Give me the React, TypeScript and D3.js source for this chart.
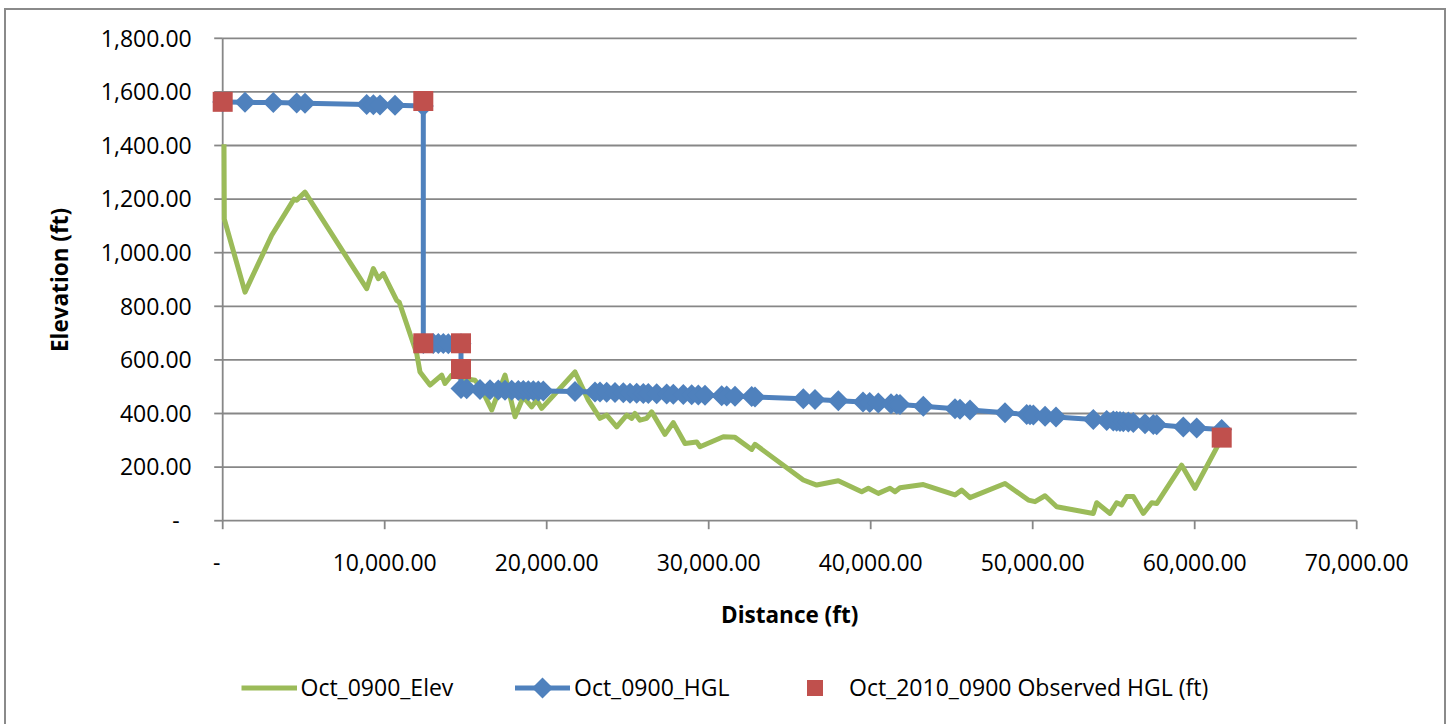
import React from "react";
import * as d3 from "d3";

// ---- Data ----
const elevDistance = [
  80, 100, 1377, 3025, 4400, 4566, 5080, 8889, 9300, 9607, 9914, 10740, 10900, 11975, 12179,
  12796, 13519, 13722, 14136, 14852, 15574, 15900, 16605, 17426, 18043, 18556, 19074, 19383,
  19691, 21747, 22568, 23290, 23704, 24321, 24938, 25247, 25450, 25759, 26173, 26481, 27302,
  27815, 28537, 29259, 29463, 30903, 31623, 32654, 32858, 35840, 36667, 38000, 39444, 39855,
  40469, 41191, 41500, 41809, 43247, 45204, 45617, 46130, 48290, 49732, 50144, 50761, 51482,
  53740, 53950, 54772, 55185, 55494, 55802, 56210, 56830, 57346, 57654, 59197, 60019, 61667,
];
const elevValues = [
  1405, 1125, 853, 1065, 1200, 1196, 1226, 866, 941, 903, 922, 822, 815, 624, 555,
  506, 543, 512, 543, 531, 524, 500, 413, 543, 388, 462, 425, 450,
  419, 555, 450, 382, 394, 350, 394, 382, 400, 375, 382, 406, 322,
  366, 288, 294, 276, 313, 311, 266, 285, 152, 133, 149, 108, 121,
  102, 121, 108, 123, 135, 96, 114, 86, 139, 77, 71, 93, 52,
  27, 67, 27, 67, 59, 90, 90, 27, 67, 64, 207, 121, 307,
];

const hglDistance = [
  0, 1377, 3125, 4566, 5080, 8889, 9300, 9710, 10636, 12383,
  12383, 13000, 13310, 13617, 13926, 14710,
  14710, 15062, 15883, 16500, 17012, 17426, 17840, 18247, 18556, 18864, 19173, 19481, 19790,
  21747, 22981, 23290, 23704, 24216, 24728, 25142, 25556, 25963, 26272, 26790, 27407, 27815,
  28432, 28951, 29358, 29772, 30802, 31111, 31623, 32654, 32858, 35840, 36562, 38000, 39525,
  39938, 40469, 41253, 41605, 41809, 43247, 45204, 45512, 46130, 48290, 49630, 49833, 50040,
  50762, 51438, 53740, 54568, 54975, 55185, 55389, 55593, 55901, 56210, 56932, 57444, 57654,
  59296, 60123, 61667,
];
const hglValues = [
  1562, 1561, 1560, 1559, 1558, 1553, 1552, 1551, 1550, 1547,
  661, 661, 661, 661, 660, 660,
  493, 492, 490, 489, 488, 487, 487, 486, 486, 485, 485, 484, 484,
  482, 480, 480, 479, 478, 477, 476, 476, 475, 475, 474, 473, 472,
  471, 470, 469, 468, 466, 465, 464, 463, 462, 455, 452, 448, 443,
  441, 439, 436, 435, 434, 427, 418, 416, 413, 403, 396, 395, 394,
  390, 387, 378, 374, 372, 371, 370, 369, 368, 366, 362, 359, 358,
  350, 346, 340,
];

const obsDistance = [0, 12383, 12383, 14710, 14710, 61667];
const obsValues = [1563, 1566, 662, 662, 566, 310];

const xTicks = [0, 10000, 20000, 30000, 40000, 50000, 60000, 70000];
const yTicks = [0, 200, 400, 600, 800, 1000, 1200, 1400, 1600, 1800];
const seriesNames = ["Oct_0900_Elev", "Oct_0900_HGL", "Oct_2010_0900 Observed HGL (ft)"];
const xTitle = "Distance (ft)";
const yTitle = "Elevation (ft)";

// ---- Styles ----
const W = 1448;
const H = 724;
const GREEN = "#9BBB59";
const BLUE = "#4F81BD";
const RED = "#C0504D";
const GRID = "#878787";
const FONT = "'Open Sans', 'Liberation Sans', sans-serif";

const fmt = (v: number) => (v === 0 ? "-" : d3.format(",.2f")(v));

export default function App() {
  const x = d3.scaleLinear().domain([0, 70000]).range([222.7, 1356.7]);
  const y = d3.scaleLinear().domain([0, 1800]).range([520.7, 38.3]);

  const elev = elevDistance.map((d, i) => [d, elevValues[i]] as [number, number]);
  const hgl = hglDistance.map((d, i) => [d, hglValues[i]] as [number, number]);
  const obs = obsDistance.map((d, i) => [d, obsValues[i]] as [number, number]);

  const line = d3
    .line<[number, number]>()
    .x((d) => x(d[0]))
    .y((d) => y(d[1]));

  const dR = 10.5;
  const diamond = `M0,${-dR}L${dR},0L0,${dR}L${-dR},0Z`;
  const sq = 20;

  const legendY = 688;

  return (
    <svg
      width={W}
      height={H}
      style={{ position: "absolute", left: 0, top: 0, background: "#fff" }}
      fontFamily={FONT}
    >
      <rect x={0} y={0} width={W} height={H} fill="#fff" />
      <rect x={5} y={9} width={1440} height={740} fill="none" stroke="#8a8a8a" strokeWidth={2} />

      {/* gridlines */}
      {yTicks
        .filter((t) => t !== 0)
        .map((t) => (
          <line key={"g" + t} x1={x(0)} x2={x(70000)} y1={y(t)} y2={y(t)} stroke={GRID} strokeWidth={1.8} />
        ))}

      {/* axes */}
      <line x1={x(0)} x2={x(0)} y1={y(1800)} y2={y(0)} stroke={GRID} strokeWidth={1.8} />
      <line x1={x(0)} x2={x(70000)} y1={y(0)} y2={y(0)} stroke={GRID} strokeWidth={1.8} />
      {yTicks.map((t) => (
        <line key={"yt" + t} x1={x(0) - 8.5} x2={x(0)} y1={y(t)} y2={y(t)} stroke={GRID} strokeWidth={1.8} />
      ))}
      {xTicks.map((t) => (
        <line key={"xt" + t} x1={x(t)} x2={x(t)} y1={y(0)} y2={y(0) + 8.5} stroke={GRID} strokeWidth={1.8} />
      ))}

      {/* tick labels */}
      {yTicks.map((t) => (
        <text
          key={"yl" + t}
          x={x(0) - 31 - (t === 0 ? 12 : 0)}
          y={y(t)}
          dy="0.36em"
          textAnchor="end"
          fontSize={23}
          fill="#000"
        >
          {fmt(t)}
        </text>
      ))}
      {xTicks.map((t) => (
        <text
          key={"xl" + t}
          x={x(t) - (t === 0 ? 6 : 0)}
          y={571}
          textAnchor="middle"
          fontSize={23}
          fill="#000"
        >
          {fmt(t)}
        </text>
      ))}

      {/* axis titles */}
      <text x={789.7} y={623} textAnchor="middle" fontSize={22.5} fontWeight="bold" fill="#000">
        {xTitle}
      </text>
      <text
        transform={`translate(68,280) rotate(-90)`}
        textAnchor="middle"
        fontSize={22.5}
        fontWeight="bold"
        fill="#000"
      >
        {yTitle}
      </text>

      {/* series */}
      <path d={line(elev) || ""} fill="none" stroke={GREEN} strokeWidth={5} strokeLinejoin="round" />
      <path d={line(hgl) || ""} fill="none" stroke={BLUE} strokeWidth={5} strokeLinejoin="round" />
      {hgl.map((d, i) => (
        <path key={"m" + i} d={diamond} transform={`translate(${x(d[0])},${y(d[1])})`} fill={BLUE} />
      ))}
      {obs.map((d, i) => (
        <rect key={"o" + i} x={x(d[0]) - sq / 2} y={y(d[1]) - sq / 2} width={sq} height={sq} fill={RED} />
      ))}

      {/* legend */}
      <line x1={241.5} x2={297} y1={legendY} y2={legendY} stroke={GREEN} strokeWidth={5} />
      <text x={300.5} y={legendY} dy="0.36em" fontSize={23} fill="#000">
        {seriesNames[0]}
      </text>
      <line x1={515} x2={570} y1={legendY} y2={legendY} stroke={BLUE} strokeWidth={5} />
      <path d={diamond} transform={`translate(542.5,${legendY})`} fill={BLUE} />
      <text x={574} y={legendY} dy="0.36em" fontSize={23} fill="#000">
        {seriesNames[1]}
      </text>
      <rect x={807} y={legendY - 8} width={16} height={16} fill={RED} />
      <text x={849} y={legendY} dy="0.36em" fontSize={23} fill="#000">
        {seriesNames[2]}
      </text>
    </svg>
  );
}
